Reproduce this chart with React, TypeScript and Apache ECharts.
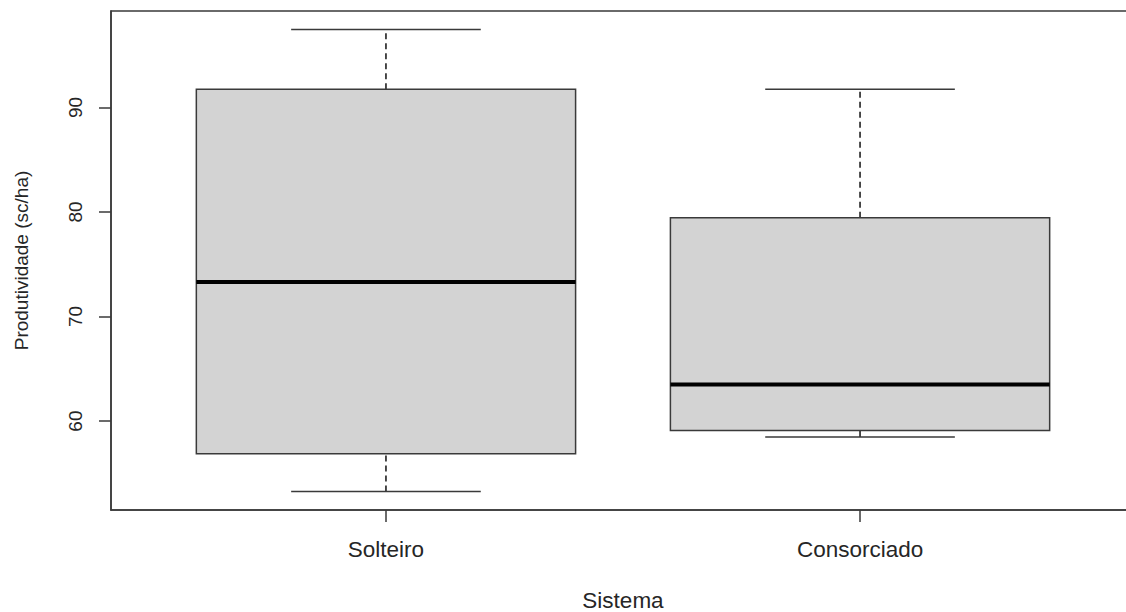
import React, { useEffect, useRef } from "react";
import * as echarts from "echarts";

const categories = ["Solteiro", "Consorciado"];
const whiskerLow = [53.27, 58.47];
const quartile1 = [56.88, 59.11];
const medians = [73.3, 63.51];
const quartile3 = [91.74, 79.46];
const whiskerHigh = [97.45, 91.74];
const yTicks = [60, 70, 80, 90];
const xTitle = "Sistema";
const yTitle = "Produtividade (sc/ha)";

const FONT = "'Liberation Sans', Arial, sans-serif";
const INK = "#262626";
const LINE = "#3a3a3a";

export default function App() {
  const ref = useRef<HTMLDivElement>(null);
  useEffect(() => {
    if (!ref.current) return;
    const chart = echarts.init(ref.current, null, { renderer: "svg" });
    const data = categories.map((_, i) => [
      i + 1,
      whiskerLow[i],
      quartile1[i],
      medians[i],
      quartile3[i],
      whiskerHigh[i],
    ]);
    const xPositions = categories.map((_, i) => i + 1);
    chart.setOption({
      animation: false,
      backgroundColor: "#ffffff",
      grid: {
        show: true,
        left: 111,
        top: 11,
        width: 1024,
        height: 499,
        containLabel: false,
        outerBoundsMode: "none",
        borderColor: LINE,
        borderWidth: 1.5,
        backgroundColor: "transparent",
      },
      xAxis: {
        type: "value",
        min: 0.42,
        max: 2.58,
        name: xTitle,
        nameLocation: "middle",
        nameGap: 79,
        nameTextStyle: { fontFamily: FONT, fontSize: 22.5, color: INK },
        axisLine: { show: true, lineStyle: { color: LINE, width: 1.5 } },
        splitLine: { show: false },
        axisTick: {
          show: true,
          length: 12,
          inside: false,
          customValues: xPositions,
          lineStyle: { color: LINE, width: 1.5 },
        },
        axisLabel: {
          show: true,
          customValues: xPositions,
          margin: 28,
          fontFamily: FONT,
          fontSize: 22.5,
          color: INK,
          formatter: (v: number) => categories[Math.round(v) - 1] ?? "",
        },
      },
      yAxis: {
        type: "value",
        min: 51.5,
        max: 99.22,
        name: yTitle,
        nameLocation: "middle",
        nameGap: 80,
        nameRotate: 90,
        nameTextStyle: { fontFamily: FONT, fontSize: 19, color: INK },
        axisLine: { show: true, lineStyle: { color: LINE, width: 1.5 } },
        splitLine: { show: false },
        axisTick: {
          show: true,
          length: 12,
          inside: false,
          customValues: yTicks,
          lineStyle: { color: LINE, width: 1.5 },
        },
        axisLabel: {
          show: true,
          customValues: yTicks,
          rotate: 90,
          margin: 26,
          fontFamily: FONT,
          fontSize: 19,
          color: INK,
        },
      },
      series: [
        {
          type: "custom",
          clip: false,
          data,
          renderItem: (params: any, api: any) => {
            const x = api.value(0);
            const pLow = api.coord([x, api.value(1)]);
            const pQ1 = api.coord([x, api.value(2)]);
            const pMed = api.coord([x, api.value(3)]);
            const pQ3 = api.coord([x, api.value(4)]);
            const pHigh = api.coord([x, api.value(5)]);
            const boxW = api.size([0.8, 0])[0];
            const half = boxW / 2;
            const cap = boxW / 4;
            const cx = pMed[0];
            const dashStyle = {
              stroke: "#111",
              lineWidth: 1.5,
              lineDash: [6, 4],
              fill: null,
            };
            const solid = { stroke: LINE, lineWidth: 1.5, fill: null };
            return {
              type: "group",
              children: [
                {
                  type: "line",
                  shape: { x1: cx, y1: pQ3[1], x2: cx, y2: pHigh[1] },
                  style: dashStyle,
                },
                {
                  type: "line",
                  shape: { x1: cx, y1: pLow[1], x2: cx, y2: pQ1[1] },
                  style: dashStyle,
                },
                {
                  type: "line",
                  shape: { x1: cx - cap, y1: pHigh[1], x2: cx + cap, y2: pHigh[1] },
                  style: solid,
                },
                {
                  type: "line",
                  shape: { x1: cx - cap, y1: pLow[1], x2: cx + cap, y2: pLow[1] },
                  style: solid,
                },
                {
                  type: "rect",
                  shape: {
                    x: cx - half,
                    y: pQ3[1],
                    width: boxW,
                    height: pQ1[1] - pQ3[1],
                  },
                  style: { fill: "#d3d3d3", stroke: LINE, lineWidth: 1.5 },
                },
                {
                  type: "line",
                  shape: { x1: cx - half, y1: pMed[1], x2: cx + half, y2: pMed[1] },
                  style: { stroke: "#000", lineWidth: 4, fill: null },
                },
              ],
            };
          },
        },
      ],
    });
    return () => chart.dispose();
  }, []);
  return (
    <div
      style={{
        position: "fixed",
        left: 0,
        top: 0,
        width: 1126,
        height: 612,
        overflow: "hidden",
        background: "#fff",
      }}
    >
      <div ref={ref} style={{ width: 1150, height: 612 }} />
    </div>
  );
}
